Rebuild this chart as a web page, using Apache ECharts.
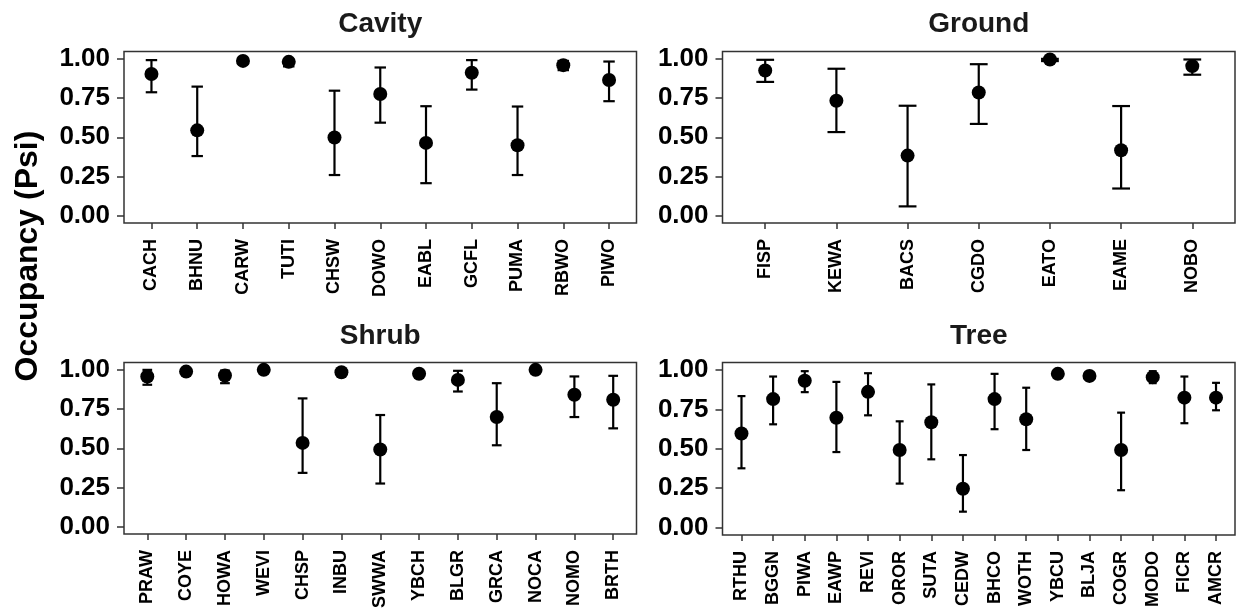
<!DOCTYPE html>
<html>
<head>
<meta charset="utf-8">
<script src="https://cdn.jsdelivr.net/npm/echarts@6/dist/echarts.min.js"></script>
<style>
  html, body { margin: 0; padding: 0; background: #fff; }
  #chart { width: 1238px; height: 611px; }
</style>
</head>
<body>
<div id="chart"></div>
<script>
// species codes and occupancy estimates (psi, lower CI, upper CI) per nesting guild
var cavityNames = ['CACH','BHNU','CARW','TUTI','CHSW','DOWO','EABL','GCFL','PUMA','RBWO','PIWO'];
var cavityPsi   = [0.903, 0.544, 0.987, 0.981, 0.498, 0.776, 0.464, 0.911, 0.449, 0.960, 0.865];
var cavityLow   = [0.787, 0.380, 0.972, 0.952, 0.259, 0.593, 0.207, 0.804, 0.259, 0.928, 0.730];
var cavityHigh  = [0.992, 0.823, 0.998, 0.995, 0.797, 0.945, 0.698, 0.992, 0.696, 0.987, 0.983];

var groundNames = ['FISP','KEWA','BACS','CGDO','EATO','EAME','NOBO'];
var groundPsi   = [0.926, 0.733, 0.383, 0.785, 0.996, 0.417, 0.954];
var groundLow   = [0.853, 0.533, 0.059, 0.585, 0.986, 0.173, 0.899];
var groundHigh  = [0.994, 0.937, 0.701, 0.966, 1.000, 0.699, 0.996];

var shrubNames = ['PRAW','COYE','HOWA','WEVI','CHSP','INBU','SWWA','YBCH','BLGR','GRCA','NOCA','NOMO','BRTH'];
var shrubPsi   = [0.958, 0.989, 0.964, 1.000, 0.534, 0.985, 0.492, 0.975, 0.936, 0.699, 1.000, 0.841, 0.809];
var shrubLow   = [0.905, 0.978, 0.915, 0.995, 0.343, 0.972, 0.275, 0.962, 0.862, 0.519, 0.995, 0.699, 0.627];
var shrubHigh  = [1.000, 0.997, 0.996, 1.000, 0.818, 0.995, 0.712, 0.988, 0.994, 0.915, 1.000, 0.958, 0.962];

var treeNames = ['RTHU','BGGN','PIWA','EAWP','REVI','OROR','SUTA','CEDW','BHCO','WOTH','YBCU','BLJA','COGR','MODO','FICR','AMCR'];
var treePsi   = [0.597, 0.815, 0.931, 0.697, 0.861, 0.492, 0.668, 0.246, 0.815, 0.687, 0.975, 0.962, 0.492, 0.954, 0.824, 0.824];
var treeLow   = [0.376, 0.655, 0.859, 0.479, 0.712, 0.279, 0.433, 0.101, 0.624, 0.492, 0.962, 0.933, 0.237, 0.916, 0.662, 0.744];
var treeHigh  = [0.834, 0.958, 0.992, 0.924, 0.979, 0.674, 0.908, 0.460, 0.975, 0.887, 0.988, 0.985, 0.729, 0.992, 0.958, 0.918];

var yTicks = [0, 0.25, 0.5, 0.75, 1];

var FONT = 'Liberation Sans, Arial, Helvetica, sans-serif';

var panels = [
    {title: 'Cavity', names: cavityNames, psi: cavityPsi, low: cavityLow, high: cavityHigh, left: 124, top: 51.5, width: 512.5, height: 171.5},
    {title: 'Ground', names: groundNames, psi: groundPsi, low: groundLow, high: groundHigh, left: 722.5, top: 51.5, width: 512.5, height: 171.5},
    {title: 'Shrub',  names: shrubNames,  psi: shrubPsi,  low: shrubLow,  high: shrubHigh,  left: 124, top: 362.5, width: 512.5, height: 172.5},
    {title: 'Tree',   names: treeNames,   psi: treePsi,   low: treeLow,   high: treeHigh,   left: 722.5, top: 362.5, width: 512.5, height: 172.5}
];

function errorBars(params, api) {
    var x = api.value(0);
    var lo = api.value(1);
    var hi = api.value(2);
    var half = 0.125;
    var top = api.coord([x, hi]);
    var bot = api.coord([x, lo]);
    var capL1 = api.coord([x - half, hi]);
    var capR1 = api.coord([x + half, hi]);
    var capL2 = api.coord([x - half, lo]);
    var capR2 = api.coord([x + half, lo]);
    var st = {stroke: '#000', lineWidth: 2.2};
    return {
        type: 'group',
        children: [
            {type: 'line', shape: {x1: top[0], y1: top[1], x2: bot[0], y2: bot[1]}, style: st},
            {type: 'line', shape: {x1: capL1[0], y1: capL1[1], x2: capR1[0], y2: capR1[1]}, style: st},
            {type: 'line', shape: {x1: capL2[0], y1: capL2[1], x2: capR2[0], y2: capR2[1]}, style: st}
        ]
    };
}

var grids = [], xAxes = [], yAxes = [], series = [], titles = [];
panels.forEach(function (p, k) {
    var idx = p.names.map(function (n, i) { return i; });
    grids.push({
        left: p.left, top: p.top, width: p.width, height: p.height,
        show: true, borderColor: '#333', borderWidth: 1.5, backgroundColor: '#fff'
    });
    titles.push({
        text: p.title,
        left: p.left + p.width / 2,
        top: k < 2 ? 10 : 322,
        textAlign: 'center',
        padding: 0,
        textStyle: {fontFamily: FONT, fontSize: 28, fontWeight: 'bold', color: '#1a1a1a'}
    });
    xAxes.push({
        type: 'value', gridIndex: k, position: 'bottom',
        min: -0.6, max: p.names.length - 0.4,
        axisLine: {show: false, onZero: false},
        splitLine: {show: false},
        axisTick: {show: true, customValues: idx, length: 6, lineStyle: {color: '#333', width: 1.5}},
        axisLabel: {
            show: true, customValues: idx, rotate: 90, margin: 16,
            fontFamily: FONT, fontSize: 18, fontWeight: 'bold', color: '#000',
            formatter: (function (names) { return function (v) { return names[Math.round(v)]; }; })(p.names)
        }
    });
    yAxes.push({
        type: 'value', gridIndex: k, position: 'left',
        min: -0.047, max: 1.047,
        axisLine: {show: false, onZero: false},
        splitLine: {show: false},
        axisTick: {show: true, customValues: yTicks, length: 7, lineStyle: {color: '#333', width: 1.5}},
        axisLabel: {
            show: true, customValues: yTicks, margin: 14,
            fontFamily: FONT, fontSize: 26, fontWeight: 'bold', color: '#000',
            formatter: function (v) { return v.toFixed(2); }
        }
    });
    series.push({
        type: 'custom', xAxisIndex: k, yAxisIndex: k,
        renderItem: errorBars,
        encode: {x: 0, y: [1, 2]},
        data: idx.map(function (i) { return [i, p.low[i], p.high[i]]; }),
        silent: true, z: 2
    });
    series.push({
        type: 'scatter', xAxisIndex: k, yAxisIndex: k,
        symbol: 'circle', symbolSize: 14,
        itemStyle: {color: '#000', opacity: 1},
        data: idx.map(function (i) { return [i, p.psi[i]]; }),
        silent: true, z: 3
    });
});

var chart = echarts.init(document.getElementById('chart'), null, {renderer: 'canvas'});
chart.setOption({
    animation: false,
    backgroundColor: '#fff',
    title: titles,
    grid: grids,
    xAxis: xAxes,
    yAxis: yAxes,
    series: series,
    graphic: [{
        type: 'text',
        x: 28, y: 256,
        rotation: Math.PI / 2,
        style: {
            text: 'Occupancy (Psi)',
            fontFamily: FONT, fontSize: 32, fontWeight: 'bold', fill: '#000',
            align: 'center', verticalAlign: 'middle'
        }
    }]
});
</script>
</body>
</html>
